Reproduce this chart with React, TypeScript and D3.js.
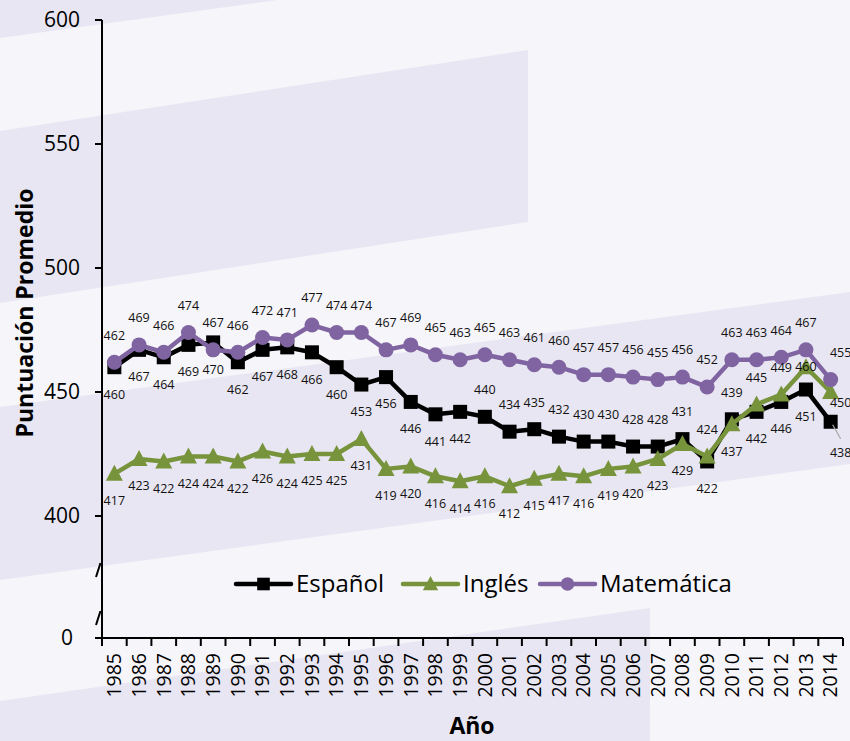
// Puntuación promedio por año – Español / Inglés / Matemática
import React, { useEffect, useRef } from 'react';
import * as d3 from 'd3';

const years = d3.range(1985, 2015).map(String);

const espanol = [460, 467, 464, 469, 470, 462, 467, 468, 466, 460, 453, 456, 446, 441, 442,
  440, 434, 435, 432, 430, 430, 428, 428, 431, 422, 439, 442, 446, 451, 438];
const ingles = [417, 423, 422, 424, 424, 422, 426, 424, 425, 425, 431, 419, 420, 416, 414,
  416, 412, 415, 417, 416, 419, 420, 423, 429, 424, 437, 445, 449, 460, 450];
const matematica = [462, 469, 466, 474, 467, 466, 472, 471, 477, 474, 474, 467, 469, 465, 463,
  465, 463, 461, 460, 457, 457, 456, 455, 456, 452, 463, 463, 464, 467, 455];

const yTicks = [400, 450, 500, 550, 600];

const W = 850;
const H = 741;
const FONT = '"Open Sans", "Noto Sans", sans-serif';

type Place = 'above' | 'below' | 'aboveRight' | 'belowRight' | 'leader' | 'onTop';

export default function App() {
  const svgRef = useRef<SVGSVGElement>(null);

  useEffect(() => {
    if (!svgRef.current) return;
    const svg = d3.select(svgRef.current);
    svg.selectAll('*').remove();

    const light = '#F6F5FA';
    const dark = '#E8E6F2';

    // background with slanted bands
    svg.append('rect').attr('width', W).attr('height', H).attr('fill', light);
    const bands: [number, number][][] = [
      [[0, 0], [277, 0], [0, 38]],
      [[0, 131], [528, 50], [528, 222], [0, 303]],
      [[0, 407], [850, 292], [850, 464], [0, 580]],
      [[0, 701], [650, 608], [650, 741], [0, 741]]
    ];
    svg.selectAll('.band')
      .data(bands)
      .enter()
      .append('polygon')
      .attr('points', d => d.map(p => p.join(',')).join(' '))
      .attr('fill', dark);

    const x = d3.scaleBand().domain(years).range([102, 843]);
    const y = d3.scaleLinear().domain([400, 600]).range([516, 20]);
    const axisY = 638;
    const cx = (i: number) => (x(years[i]) as number) + x.bandwidth() / 2;

    // y axis
    svg.append('line')
      .attr('x1', 102).attr('x2', 102).attr('y1', y(600)).attr('y2', axisY)
      .attr('stroke', '#000').attr('stroke-width', 2);
    yTicks.forEach(t => {
      svg.append('line')
        .attr('x1', 95).attr('x2', 102).attr('y1', y(t)).attr('y2', y(t))
        .attr('stroke', '#000').attr('stroke-width', 2);
      svg.append('text')
        .attr('x', 80).attr('y', y(t))
        .attr('dy', '0.35em')
        .attr('text-anchor', 'end')
        .attr('font-family', FONT).attr('font-size', 21)
        .attr('fill', '#000')
        .text(t);
    });
    svg.append('line')
      .attr('x1', 95).attr('x2', 102).attr('y1', axisY).attr('y2', axisY)
      .attr('stroke', '#000').attr('stroke-width', 2);
    svg.append('text')
      .attr('x', 73).attr('y', axisY)
      .attr('dy', '0.35em')
      .attr('text-anchor', 'end')
      .attr('font-family', FONT).attr('font-size', 21)
      .text('0');

    // axis break marks
    [570, 618].forEach(by => {
      svg.append('line')
        .attr('x1', 96).attr('y1', by + 7).attr('x2', 100.5).attr('y2', by - 7)
        .attr('stroke', '#000').attr('stroke-width', 2);
    });

    // x axis
    svg.append('line')
      .attr('x1', 102).attr('x2', 843).attr('y1', axisY).attr('y2', axisY)
      .attr('stroke', '#000').attr('stroke-width', 2);
    const bounds = years.map(yr => x(yr) as number).concat([843]);
    bounds.forEach(bx => {
      svg.append('line')
        .attr('x1', bx).attr('x2', bx).attr('y1', axisY).attr('y2', axisY + 8)
        .attr('stroke', '#000').attr('stroke-width', 2);
    });
    years.forEach((yr, i) => {
      svg.append('text')
        .attr('transform', `translate(${cx(i)},${axisY + 15}) rotate(-90)`)
        .attr('dy', '0.35em')
        .attr('text-anchor', 'end')
        .attr('font-family', FONT).attr('font-size', 19.5)
        .attr('fill', '#000')
        .text(yr);
    });

    // axis titles
    svg.append('text')
      .attr('transform', 'translate(25,313) rotate(-90)')
      .attr('dy', '0.35em')
      .attr('text-anchor', 'middle')
      .attr('font-family', FONT).attr('font-size', 23).attr('font-weight', 'bold')
      .text('Puntuación Promedio');
    svg.append('text')
      .attr('x', 472).attr('y', 734)
      .attr('text-anchor', 'middle')
      .attr('font-family', FONT).attr('font-size', 23).attr('font-weight', 'bold')
      .text('Año');

    const series = [
      { name: 'Español', values: espanol, color: '#000000', marker: 'square' },
      { name: 'Inglés', values: ingles, color: '#77933C', marker: 'triangle' },
      { name: 'Matemática', values: matematica, color: '#8064A2', marker: 'circle' }
    ];

    const line = d3.line<number>()
      .x((_, i) => cx(i))
      .y(d => y(d));

    const drawMarker = (g: any, kind: string, px: number, py: number, color: string, s = 1) => {
      if (kind === 'square') {
        g.append('rect')
          .attr('x', px - 7 * s).attr('y', py - 7 * s)
          .attr('width', 14 * s).attr('height', 14 * s)
          .attr('fill', color);
      } else if (kind === 'triangle') {
        g.append('path')
          .attr('d', `M${px},${py - 9 * s}L${px + 8.5 * s},${py + 7 * s}L${px - 8.5 * s},${py + 7 * s}Z`)
          .attr('fill', color);
      } else {
        g.append('circle').attr('cx', px).attr('cy', py).attr('r', 7.5 * s).attr('fill', color);
      }
    };

    const plot = svg.append('g');
    series.forEach(s => {
      plot.append('path')
        .datum(s.values)
        .attr('d', line)
        .attr('fill', 'none')
        .attr('stroke', s.color)
        .attr('stroke-width', 4.5)
        .attr('stroke-linejoin', 'round');
      s.values.forEach((v, i) => drawMarker(plot, s.marker, cx(i), y(v), s.color));
    });

    // data label placement
    const placeOf = (name: string, i: number): Place => {
      if (name === 'Matemática') return i === 29 ? 'aboveRight' : 'above';
      if (name === 'Español') {
        if (i === 29) return 'leader';
        if ((i >= 15 && i <= 23) || i === 25) return 'above';
        return 'below';
      }
      if (i === 29) return 'belowRight';
      if (i === 28) return 'onTop';
      if (i === 24 || i === 26 || i === 27) return 'above';
      return 'below';
    };

    const labels = svg.append('g')
      .attr('font-family', FONT)
      .attr('font-size', 12.5)
      .attr('fill', '#111');
    series.forEach(s => {
      s.values.forEach((v, i) => {
        const px = cx(i);
        const py = y(v);
        const p = placeOf(s.name, i);
        let lx = px;
        let ly = py;
        if (p === 'above') ly = py - 27;
        else if (p === 'below') ly = py + 27;
        else if (p === 'aboveRight') { lx = px + 10; ly = py - 27; }
        else if (p === 'belowRight') { lx = px + 10; ly = py + 11; }
        else if (p === 'onTop') ly = py - 1;
        else if (p === 'leader') {
          lx = px + 10; ly = py + 31;
          labels.append('line')
            .attr('x1', px + 2).attr('y1', py + 3)
            .attr('x2', px + 10).attr('y2', py + 17)
            .attr('stroke', '#A6A6A6').attr('stroke-width', 1.2);
        }
        labels.append('text')
          .attr('x', lx).attr('y', ly)
          .attr('dy', '0.35em')
          .attr('text-anchor', 'middle')
          .text(v);
      });
    });

    // legend
    const legendY = 584;
    const legendItems = [
      { x0: 236, tx: 296 },
      { x0: 403, tx: 463 },
      { x0: 540, tx: 600 }
    ];
    series.forEach((s, k) => {
      const it = legendItems[k];
      const lg = svg.append('g');
      lg.append('line')
        .attr('x1', it.x0).attr('x2', it.x0 + 55)
        .attr('y1', legendY).attr('y2', legendY)
        .attr('stroke', s.color).attr('stroke-width', 4.5)
        .attr('stroke-linecap', 'round');
      drawMarker(lg, s.marker, it.x0 + 27.5, legendY, s.color, 0.9);
      lg.append('text')
        .attr('x', it.tx).attr('y', legendY)
        .attr('dy', '0.35em')
        .attr('font-family', FONT).attr('font-size', 24)
        .attr('fill', '#000')
        .text(s.name);
    });
  }, []);

  return (
    <div style={{ position: 'absolute', left: 0, top: 0 }}>
      <svg ref={svgRef} width={W} height={H} style={{ display: 'block' }} />
    </div>
  );
}
